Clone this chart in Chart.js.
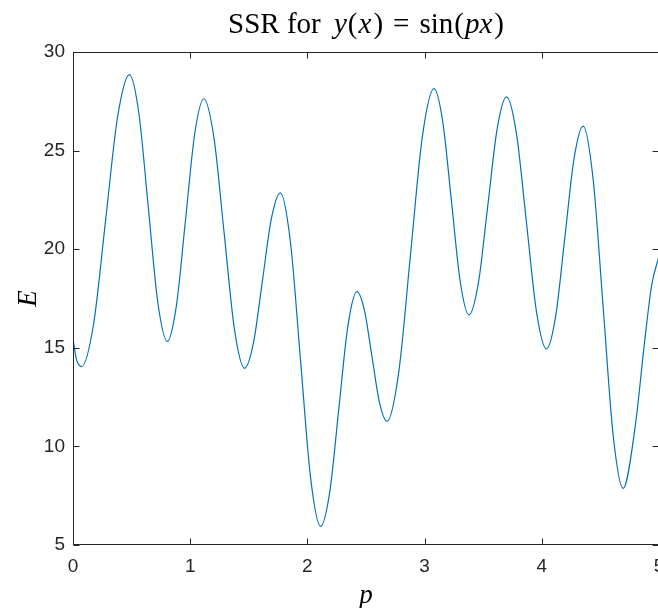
<!DOCTYPE html>
<html>
<head>
<meta charset="utf-8">
<script src="https://cdn.jsdelivr.net/npm/chart.js@4.4.0/dist/chart.umd.min.js"></script>
<style>
    html, body { margin: 0; padding: 0; background: #fff; overflow: hidden; }
    #wrap { width: 662px; height: 608px; }
</style>
</head>
<body>
<div id="wrap"><canvas id="ssr-chart" width="662" height="608"></canvas></div>
<script>
// p values (extrema + points between them)
const pValues = [
    0, 0.03, 0.074, 0.176, 0.278, 0.380, 0.482, 0.5625, 0.643, 0.7235,
    0.804, 0.882, 0.960, 1.038, 1.116, 1.203, 1.290, 1.377, 1.464, 1.540,
    1.6165, 1.693, 1.769, 1.855, 1.941, 2.027, 2.113, 2.1905, 2.268, 2.3455,
    2.423, 2.487, 2.551, 2.615, 2.679, 2.779, 2.8795, 2.980, 3.080, 3.155,
    3.2295, 3.304, 3.379, 3.459, 3.539, 3.619, 3.699, 3.784, 3.8695, 3.955,
    4.040, 4.118, 4.1965, 4.275, 4.353, 4.438, 4.5235, 4.609, 4.694, 4.794,
    4.880, 4.937, 5.0
];
// E (sum of squared residuals) at those p
const errValues = [
    15.45, 14.4, 14.05, 16.22, 21.45, 26.69, 28.85, 26.87, 22.09, 17.31,
    15.33, 17.13, 21.48, 25.83, 27.63, 25.63, 20.80, 15.96, 13.96, 15.26,
    18.41, 21.56, 22.86, 20.38, 14.40, 8.42, 5.94, 7.68, 11.90, 16.11,
    17.85, 16.89, 14.56, 12.23, 11.27, 13.74, 19.71, 25.67, 28.14, 26.46,
    22.41, 18.35, 16.67, 18.29, 22.20, 26.10, 27.72, 25.85, 21.33, 16.81,
    14.94, 16.59, 20.59, 24.59, 26.24, 23.55, 17.06, 10.56, 7.87, 10.88,
    15.45, 18.16, 19.65
];
const xTicks = [0, 1, 2, 3, 4, 5];
const yTicks = [5, 10, 15, 20, 25, 30];

const axisColor = '#262626';
const tickFont = { family: 'Liberation Sans, Arial, sans-serif', size: 19 };

// title with math parts in italics, plus box and inward ticks like matlab
const matlabAxes = {
    id: 'matlabAxes',
    afterDraw(chart) {
        const ctx = chart.ctx;
        const a = chart.chartArea;
        const xs = chart.scales.x;
        const ys = chart.scales.y;
        const L = Math.round(a.left) + 0.5, R = Math.round(a.right) - 0.5;
        const T = Math.round(a.top) + 0.5, B = Math.round(a.bottom) - 0.5;
        ctx.save();
        ctx.strokeStyle = axisColor;
        ctx.lineWidth = 1;
        ctx.strokeRect(L, T, R - L, B - T);
        ctx.beginPath();
        xTicks.forEach(v => {
            const px = Math.round(xs.getPixelForValue(v)) + 0.5;
            ctx.moveTo(px, B); ctx.lineTo(px, B - 6);
            ctx.moveTo(px, T); ctx.lineTo(px, T + 6);
        });
        yTicks.forEach(v => {
            const py = Math.round(ys.getPixelForValue(v)) + 0.5;
            ctx.moveTo(L, py); ctx.lineTo(L + 6, py);
            ctx.moveTo(R, py); ctx.lineTo(R - 6, py);
        });
        ctx.stroke();

        // title, latex-ish: spaces around '=' a bit wider
        const parts = [['SSR for ', false, 6], ['y', true, 1], ['(', false, 1], ['x', true, 2],
                       [')', false, 10], ['=', false, 10], ['sin', false, 1], ['(', false, 1],
                       ['px', true, 2], [')', false, 0]];
        const fontOf = it => (it ? 'italic ' : '') + '29px "Liberation Serif", serif';
        let total = 0;
        parts.forEach(p => { ctx.font = fontOf(p[1]); total += ctx.measureText(p[0]).width + p[2]; });
        let x = (a.left + a.right) / 2 - total / 2;
        ctx.fillStyle = '#000';
        ctx.textBaseline = 'alphabetic';
        ctx.textAlign = 'left';
        parts.forEach(p => {
            ctx.font = fontOf(p[1]);
            ctx.fillText(p[0], x, 33);
            x += ctx.measureText(p[0]).width + p[2];
        });

        // axis labels
        ctx.font = 'italic 27px "Liberation Serif", serif';
        ctx.textAlign = 'center';
        ctx.textBaseline = 'middle';
        ctx.fillText('p', (a.left + a.right) / 2, 596);
        ctx.translate(29, (a.top + a.bottom) / 2);
        ctx.rotate(-Math.PI / 2);
        ctx.fillText('E', 0, 0);
        ctx.restore();
    }
};

const ctx = document.getElementById('ssr-chart').getContext('2d');
const ssrChart = new Chart(ctx, {
    type: 'line',
    data: {
        datasets: [{
            data: pValues.map((p, i) => ({ x: p, y: errValues[i] })),
            borderColor: '#0072BD',
            borderWidth: 1.2,
            pointRadius: 0,
            fill: false,
            cubicInterpolationMode: 'monotone'
        }]
    },
    options: {
        responsive: false,
        animation: false,
        layout: { padding: { left: 0, top: 52, right: 3, bottom: 0 } },
        plugins: {
            legend: { display: false },
            tooltip: { enabled: false }
        },
        scales: {
            x: {
                type: 'linear',
                min: 0,
                max: 5,
                afterBuildTicks: s => { s.ticks = xTicks.map(v => ({ value: v })); },
                afterFit: s => { s.height = 63; s.paddingLeft = 0; s.paddingRight = 0; },
                grid: { display: false, drawTicks: false },
                border: { display: false },
                ticks: { color: axisColor, font: tickFont, padding: 10, maxRotation: 0 }
            },
            y: {
                min: 5,
                max: 30,
                afterBuildTicks: s => { s.ticks = yTicks.map(v => ({ value: v })); },
                afterFit: s => { s.width = 73; s.paddingTop = 0; s.paddingBottom = 0; },
                grid: { display: false, drawTicks: false },
                border: { display: false },
                ticks: { color: axisColor, font: tickFont, padding: 8 }
            }
        }
    },
    plugins: [matlabAxes]
});
</script>
</body>
</html>
